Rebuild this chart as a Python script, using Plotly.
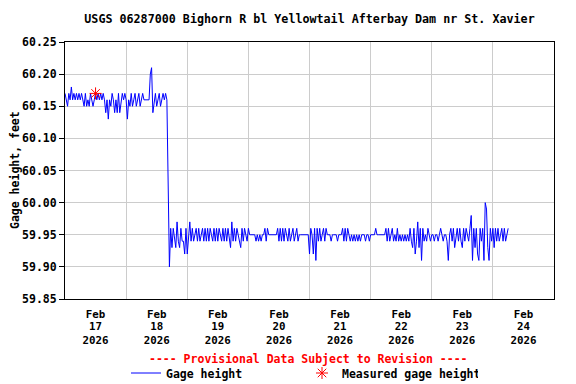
import pandas as pd
import plotly.graph_objects as go

# Gage height readings (feet), every 30 minutes, starting 2026-02-17 00:00
feb17 = [60.17, 60.16, 60.15, 60.17, 60.16, 60.18, 60.16, 60.17, 60.16, 60.17, 60.16, 60.17,
         60.16, 60.17, 60.16, 60.15, 60.17, 60.15, 60.16, 60.15, 60.17, 60.16, 60.15, 60.16,
         60.17, 60.16, 60.17, 60.16, 60.17, 60.16, 60.17, 60.16, 60.14, 60.16, 60.13, 60.16,
         60.15, 60.17, 60.16, 60.14, 60.16, 60.14, 60.17, 60.14, 60.16, 60.17, 60.16, 60.17]
feb18 = [60.16, 60.13, 60.16, 60.15, 60.17, 60.15, 60.16, 60.17, 60.15, 60.16, 60.17, 60.15,
         60.16, 60.17, 60.16, 60.16, 60.16, 60.16, 60.16, 60.20, 60.21, 60.14, 60.16, 60.17,
         60.15, 60.16, 60.17, 60.15, 60.16, 60.17, 60.16, 60.17, 60.16, 60.01, 59.90, 59.96,
         59.93, 59.96, 59.94, 59.93, 59.97, 59.94, 59.93, 59.96, 59.94, 59.94, 59.92, 59.96]
feb19 = [59.92, 59.95, 59.97, 59.94, 59.96, 59.94, 59.95, 59.96, 59.94, 59.96, 59.94, 59.95,
         59.96, 59.94, 59.96, 59.94, 59.96, 59.94, 59.96, 59.95, 59.94, 59.96, 59.94, 59.96,
         59.94, 59.96, 59.95, 59.94, 59.96, 59.94, 59.96, 59.94, 59.96, 59.94, 59.93, 59.97,
         59.94, 59.96, 59.94, 59.96, 59.95, 59.94, 59.93, 59.96, 59.94, 59.96, 59.95, 59.94]
feb20 = [59.96, 59.95, 59.95, 59.95, 59.95, 59.95, 59.94, 59.95, 59.94, 59.95, 59.94, 59.95,
         59.95, 59.96, 59.94, 59.96, 59.95, 59.95, 59.95, 59.95, 59.95, 59.95, 59.95, 59.96,
         59.94, 59.96, 59.94, 59.96, 59.94, 59.96, 59.95, 59.94, 59.96, 59.94, 59.95, 59.96,
         59.94, 59.95, 59.96, 59.94, 59.95, 59.95, 59.95, 59.95, 59.95, 59.95, 59.95, 59.95]
feb21 = [59.92, 59.96, 59.95, 59.92, 59.96, 59.91, 59.96, 59.94, 59.96, 59.94, 59.95, 59.96,
         59.94, 59.96, 59.95, 59.95, 59.95, 59.94, 59.95, 59.95, 59.95, 59.95, 59.94, 59.95,
         59.95, 59.95, 59.96, 59.94, 59.96, 59.94, 59.96, 59.95, 59.94, 59.95, 59.94, 59.95,
         59.94, 59.95, 59.94, 59.95, 59.94, 59.95, 59.95, 59.95, 59.94, 59.95, 59.95, 59.94]
feb22 = [59.95, 59.95, 59.95, 59.95, 59.96, 59.95, 59.95, 59.95, 59.95, 59.95, 59.95, 59.95,
         59.96, 59.94, 59.96, 59.94, 59.95, 59.96, 59.94, 59.95, 59.94, 59.96, 59.94, 59.95,
         59.94, 59.95, 59.94, 59.95, 59.94, 59.95, 59.94, 59.96, 59.94, 59.93, 59.96, 59.92,
         59.94, 59.97, 59.93, 59.96, 59.91, 59.96, 59.94, 59.95, 59.94, 59.96, 59.95, 59.94]
feb23 = [59.95, 59.95, 59.94, 59.95, 59.95, 59.94, 59.95, 59.96, 59.95, 59.94, 59.95, 59.95,
         59.94, 59.91, 59.95, 59.96, 59.94, 59.96, 59.93, 59.95, 59.96, 59.94, 59.96, 59.94,
         59.93, 59.96, 59.94, 59.96, 59.95, 59.94, 59.96, 59.98, 59.91, 59.96, 59.93, 59.96,
         59.92, 59.91, 59.96, 59.94, 59.96, 59.91, 60.00, 59.99, 59.93, 59.91, 59.96, 59.94]
feb24 = [59.96, 59.93, 59.96, 59.94, 59.96, 59.94, 59.95, 59.96, 59.94, 59.96, 59.94, 59.95,
         59.96]

gage_values = feb17 + feb18 + feb19 + feb20 + feb21 + feb22 + feb23 + feb24
gage_times = pd.date_range("2026-02-17 00:00", periods=len(gage_values), freq="30min")

measured_times = ["2026-02-17 12:00"]
measured_values = [60.17]

x_range = ["2026-02-17", "2026-02-25"]
title_text = "USGS 06287000 Bighorn R bl Yellowtail Afterbay Dam nr St. Xavier"
y_title = "Gage height, feet"
provisional_text = "---- Provisional Data Subject to Revision ----"

FONT = "DejaVu Sans Mono"
OFF = 8                      # page body margin of the browser
W, H = 576 - OFF, 384 - OFF
ML, MR, MT, MB = 65 - OFF, 22, 42 - OFF, 85
PW, PH = W - ML - MR, H - MT - MB

fig = go.Figure()
fig.add_trace(go.Scatter(
    x=gage_times, y=gage_values, mode="lines", name="Gage height",
    line=dict(color="#0000ff", width=1), hoverinfo="skip"))
fig.add_trace(go.Scatter(
    x=measured_times, y=measured_values, mode="markers", name="Measured gage height",
    marker=dict(symbol="asterisk-open", size=10, color="#ff0000",
                line=dict(color="#ff0000", width=1)), hoverinfo="skip"))
# empty helper traces so the day and year label axes are drawn
fig.add_trace(go.Scatter(x=[], y=[], xaxis="x2", showlegend=False, hoverinfo="skip"))
fig.add_trace(go.Scatter(x=[], y=[], xaxis="x3", showlegend=False, hoverinfo="skip"))

fig.update_layout(
    width=W, height=H,
    margin=dict(l=ML, r=MR, t=MT, b=MB, autoexpand=False),
    paper_bgcolor="white", plot_bgcolor="white",
    font=dict(family=FONT, size=11.5, color="black", weight="bold"),
    title=dict(text=title_text, x=0.5, xref="paper", xanchor="center",
               y=1 - (19 - OFF) / H, yref="container", yanchor="middle",
               font=dict(family=FONT, size=11.7, color="black", weight="bold")),
    showlegend=True,
    legend=dict(orientation="h", xref="container", yref="container",
                x=(126 - OFF) / W, xanchor="left", y=1 - (373 - OFF) / H, yanchor="middle",
                font=dict(family=FONT, size=11.5, color="black", weight="bold"),
                entrywidth=131, bgcolor="rgba(0,0,0,0)"),
    hovermode=False,
)

common_x = dict(
    type="date", range=x_range, tick0="2026-02-17", dtick=86400000,
    ticklabelmode="period", ticks="", automargin=False,
    tickfont=dict(family=FONT, size=10.8, color="black", weight="bold"),
    zeroline=False,
)
fig.update_layout(
    xaxis=dict(**common_x, tickformat="%b", ticklabelstandoff=5,
               showgrid=True, gridcolor="#cccccc", gridwidth=1,
               showline=True, linecolor="black", linewidth=1, mirror=True),
    xaxis2=dict(**common_x, tickformat="%d", ticklabelstandoff=19,
                overlaying="x", anchor="y", side="bottom",
                showgrid=False, showline=False),
    xaxis3=dict(**common_x, tickformat="%Y", ticklabelstandoff=33,
                overlaying="x", anchor="y", side="bottom",
                showgrid=False, showline=False),
)
fig.update_yaxes(
    range=[59.85, 60.25], dtick=0.05, tick0=59.85, tickformat=".2f",
    ticks="outside", ticklen=5, tickcolor="black", automargin=False,
    showgrid=True, gridcolor="#cccccc", gridwidth=1,
    showline=True, linecolor="black", linewidth=1, mirror=True,
    tickfont=dict(family=FONT, size=11.5, color="black", weight="bold"),
    zeroline=False,
)

fig.add_annotation(text=y_title, textangle=-90, xref="paper", yref="paper",
                   x=(14.5 - 65) / PW, y=0.5, xanchor="center", yanchor="middle",
                   showarrow=False,
                   font=dict(family=FONT, size=11.5, color="black", weight="bold"))
fig.add_annotation(text=provisional_text, xref="paper", yref="paper",
                   x=(308 - 65) / PW, y=-(359 - 299) / PH,
                   xanchor="center", yanchor="middle", showarrow=False,
                   font=dict(family=FONT, size=11.5, color="#ff0000", weight="bold"))

fig.write_html("out.html", config={"displayModeBar": False})
